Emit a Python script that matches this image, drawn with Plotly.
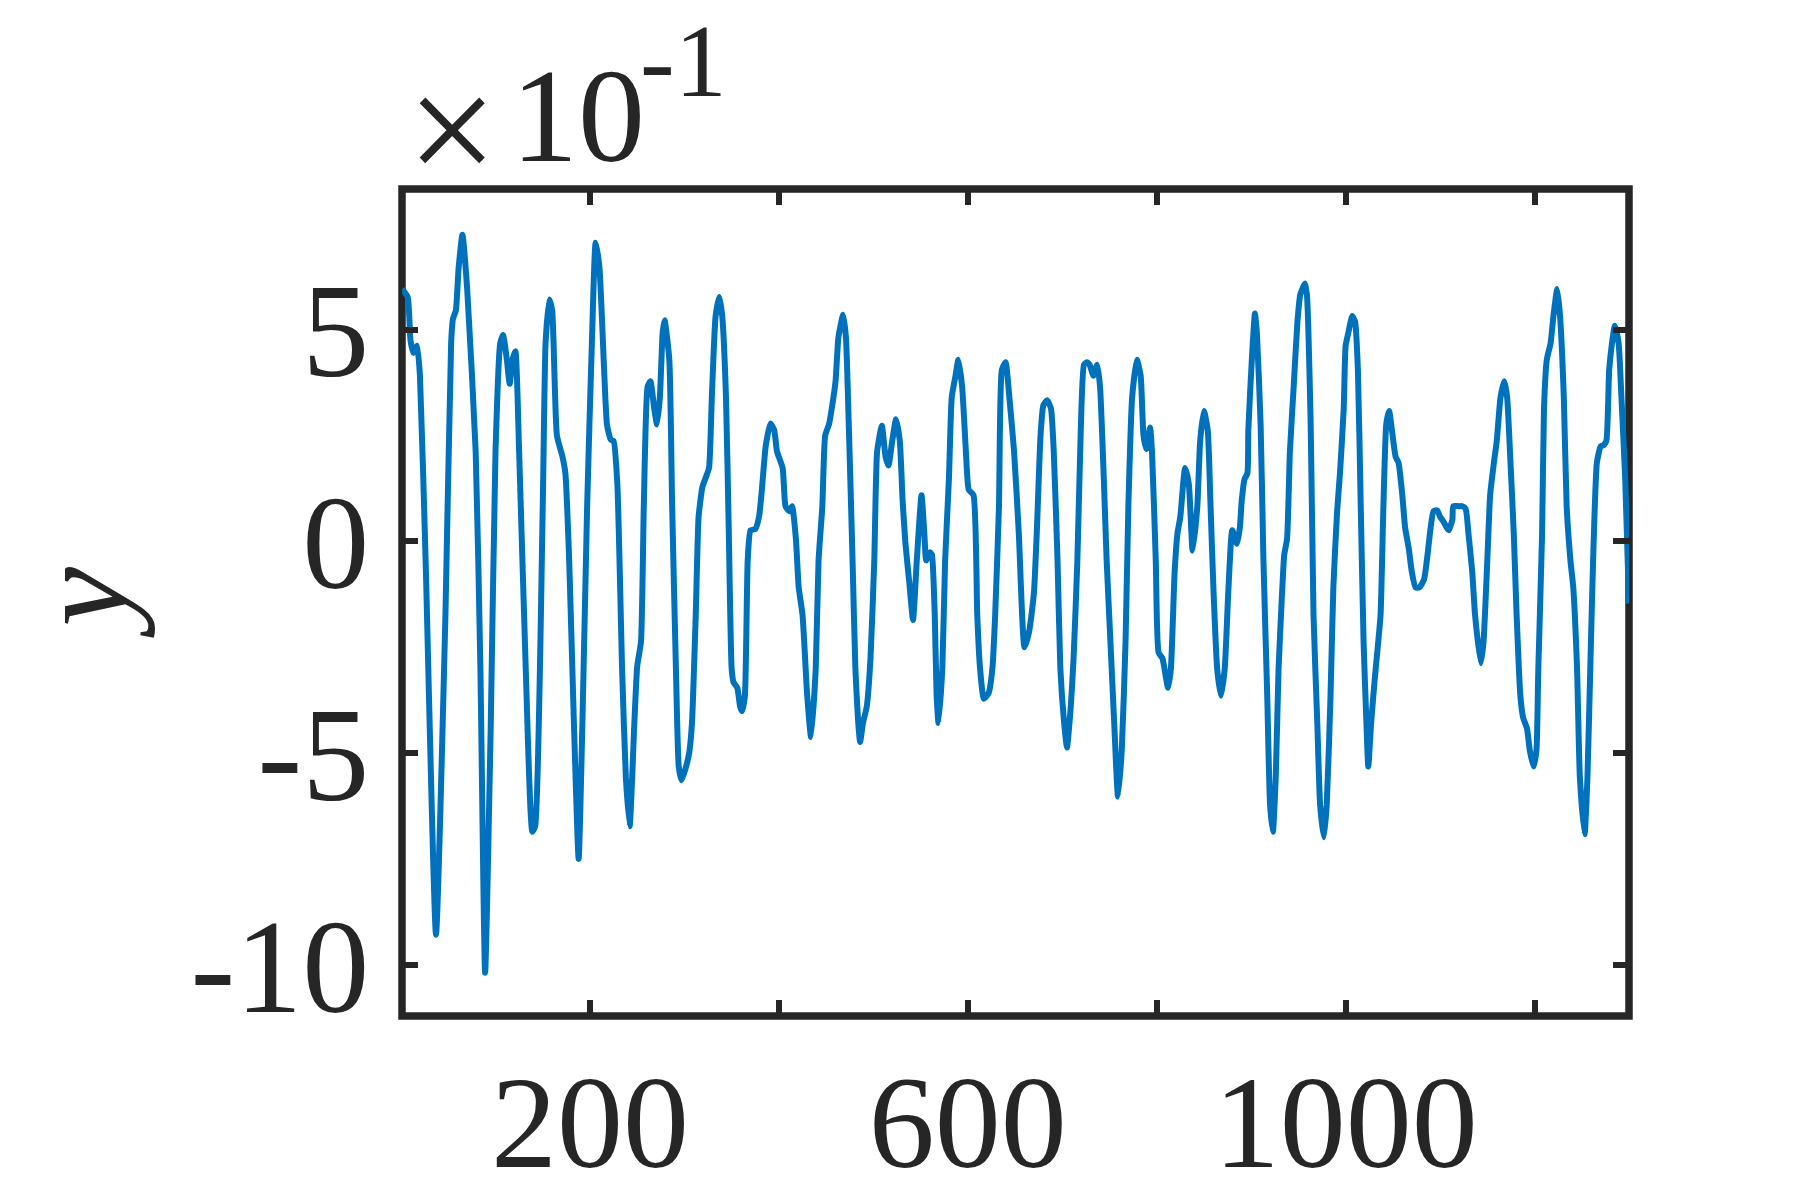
import plotly.graph_objects as go

# sample index and signal value (real units, axis shows x10^-1)
n = [1, 7, 10, 13, 15, 17, 20, 26, 37, 47, 53, 55, 58, 61, 65, 70, 79, 84, 89, 95,
     100, 105, 108, 112, 115, 118, 121, 125, 132, 139, 142, 150, 153, 157, 160, 165, 171, 174, 178, 183,
     188, 192, 197, 202, 206, 210,
     215, 218, 222, 225, 229, 234, 238, 242, 247, 250, 254, 257, 261, 264, 268, 271, 274, 277, 279, 284,
     287, 291, 294, 297, 301, 305, 308, 312, 315, 319, 322, 326, 329, 333, 337, 340, 344, 347, 350, 352,
     356, 359, 361, 364, 367, 370, 375, 379, 382, 386, 391, 395, 398, 404, 407, 411, 414, 418, 421, 425,
     430, 434,
     439, 442, 446, 449, 453, 456, 460, 463, 468, 471, 474, 478, 481, 484, 486, 489, 493, 497, 501, 504,
     509, 513, 516, 520, 524, 528, 531, 534, 538, 542, 546, 551, 554, 556, 560, 562, 565, 567, 569, 573,
     576, 580, 583, 587, 590, 594, 598, 601, 606, 610, 613, 617, 622, 626, 629, 633, 636, 640, 644, 649,
     654,
     660, 665, 670, 673, 677, 680, 684, 688, 691, 695, 698, 702, 705, 709, 712, 716, 719, 723, 726, 729,
     733, 737, 740, 744, 747, 751, 755, 759, 763, 767, 770, 774, 779, 783, 786, 789, 793, 795, 799, 802,
     806, 812, 815, 819, 822, 825, 830, 834, 838, 843, 846, 850, 854, 857, 860, 864, 868,
     872, 876, 880, 885, 888, 890, 893, 896, 897, 901, 904, 906, 910, 913, 917, 920, 923, 926, 929, 933,
     935, 938, 941, 945, 949, 952, 957, 959, 963, 966, 970, 973, 977, 980, 984, 987, 991, 994, 998, 1000,
     1003, 1007, 1010, 1013, 1016, 1019, 1022, 1024, 1027, 1031, 1034, 1037, 1040, 1043, 1046, 1049, 1053,
     1056, 1060, 1063, 1067, 1070, 1074, 1078,
     1083, 1086, 1090, 1093, 1097, 1100, 1104, 1109, 1113, 1114, 1120, 1123, 1127, 1130, 1134, 1137, 1143,
     1146, 1150, 1153, 1157, 1160, 1164, 1168, 1171, 1174, 1178, 1181, 1185, 1188, 1192, 1195, 1199, 1202,
     1204, 1208, 1210, 1213, 1217, 1220, 1224, 1227, 1231, 1234, 1238, 1241, 1245, 1248, 1253, 1256, 1259,
     1262, 1266, 1270, 1273, 1276, 1279, 1282, 1285, 1289, 1292, 1296, 1300]

y = [0.596, 0.577, 0.474, 0.445, 0.455, 0.462, 0.391, -0.045, -0.929, -0.173, 0.468, 0.526, 0.545, 0.647, 0.724, 0.596, 0.212, -0.301, -1.019, -0.429,
     0.212, 0.468, 0.487, 0.429, 0.372, 0.429, 0.449, 0.212, -0.301, -0.686, -0.673, 0.083, 0.468, 0.571, 0.545, 0.250, 0.199, 0.160, -0.045, -0.429,
     -0.750, -0.429, 0.083, 0.468, 0.705, 0.647,
     0.404, 0.276, 0.240, 0.237, 0.135, -0.301, -0.558, -0.673, -0.429, -0.295, -0.237, 0.083, 0.365, 0.378, 0.314, 0.276, 0.340, 0.494, 0.522, 0.429,
     0.083, -0.301, -0.532, -0.564, -0.538, -0.500, -0.429, -0.173, 0.058, 0.128, 0.147, 0.173, 0.340, 0.532, 0.577, 0.532, 0.340, 0.019, -0.301, -0.333,
     -0.346, -0.391, -0.401, -0.365, -0.045, 0.026, 0.029, 0.058, 0.122, 0.224, 0.278, 0.263, 0.212, 0.173, 0.083, 0.071, 0.083, 0.006, -0.109, -0.173,
     -0.365, -0.462,
     -0.301, -0.045, 0.083, 0.250, 0.276, 0.314, 0.378, 0.481, 0.535, 0.481, 0.276, -0.045, -0.301, -0.429, -0.474, -0.429, -0.391, -0.276, -0.045, 0.212,
     0.273, 0.199, 0.179, 0.237, 0.288, 0.237, 0.096, -0.006, -0.096, -0.186, -0.045, 0.109, 0.019, -0.045, -0.026, -0.032, -0.173, -0.365, -0.429, -0.301,
     -0.045, 0.147, 0.340, 0.391, 0.429, 0.365, 0.212, 0.122, 0.109, -0.173, -0.301, -0.372, -0.359, -0.301, -0.173, 0.083, 0.404, 0.423, 0.340, 0.212,
     0.019,
     -0.250, -0.212, -0.122, 0.019, 0.250, 0.321, 0.333, 0.314, 0.212, -0.045, -0.301, -0.429, -0.487, -0.391, -0.276, -0.045, 0.212, 0.417, 0.423, 0.417,
     0.391, 0.417, 0.365, 0.147, -0.045, -0.237, -0.429, -0.603, -0.494, -0.237, 0.083, 0.340, 0.429, 0.391, 0.250, 0.218, 0.269, 0.212, -0.045, -0.263,
     -0.276, -0.346, -0.301, -0.071, 0.019, 0.058, 0.173, 0.135, -0.022, 0.083, 0.237, 0.308, 0.263, 0.083, -0.109, -0.301, -0.365,
     -0.301, -0.109, 0.026, -0.006, 0.032, 0.096, 0.147, 0.160, 0.263, 0.442, 0.538, 0.494, 0.276, -0.045, -0.365, -0.622, -0.686, -0.558, -0.301, -0.109,
     -0.032, 0.006, 0.212, 0.365, 0.519, 0.583, 0.609, 0.583, 0.276, -0.173, -0.429, -0.622, -0.699, -0.622, -0.365, -0.109, 0.071, 0.160, 0.314, 0.462,
     0.494, 0.532, 0.519, 0.404, 0.083, -0.237, -0.429, -0.532, -0.429, -0.321, -0.250, -0.173, 0.083, 0.276, 0.308, 0.263, 0.199,
     0.186, 0.109, 0.032, -0.019, -0.071, -0.109, -0.109,
     -0.090, -0.045, 0.032, 0.071, 0.073, 0.058, 0.045, 0.026, 0.051, 0.083, 0.083, 0.083, 0.077, 0.019, -0.071, -0.173, -0.288,
     -0.237, -0.045, 0.109, 0.186, 0.237, 0.340, 0.378, 0.340, 0.212, 0.019, -0.173, -0.365, -0.417, -0.442, -0.494, -0.532, -0.494,
     -0.301, 0.019, 0.314, 0.429, 0.468, 0.532, 0.596, 0.532, 0.340, 0.083, -0.045, -0.109, -0.301, -0.558, -0.692, -0.558, -0.301,
     -0.045, 0.186, 0.224, 0.227, 0.237, 0.404, 0.468, 0.509, 0.468, 0.340, 0.147, -0.147]

x_ticks = [200, 400, 600, 800, 1000, 1200]
x_labels = ['200', '', '600', '', '1000', '']
y_ticks = [-1.0, -0.5, 0.0, 0.5]
y_labels = ['-10', '-5', '0', '5']

axis_col = '#262626'
serif = 'Liberation Serif'

fig = go.Figure()
fig.add_trace(go.Scatter(x=n, y=y, mode='lines',
                         line=dict(color='#0072BD', width=6, shape='spline', smoothing=0.5)))

# axis lines kept invisible (only for tick placement), the box is a shape below the curve
axis_common = dict(
    ticks='inside', tickwidth=5.5, tickcolor=axis_col, ticklen=16,
    showline=True, linewidth=1, linecolor='rgba(0,0,0,0)', mirror='ticks',
    showgrid=False, zeroline=False, automargin=False,
)

fig.update_xaxes(range=[1, 1300], tickvals=x_ticks, ticktext=x_labels,
                 ticklabelstandoff=-8,
                 tickfont=dict(family=serif, size=132, color=axis_col), **axis_common)
fig.update_yaxes(range=[-1.121, 0.832], tickvals=y_ticks, ticktext=y_labels,
                 ticklabelstandoff=5,
                 tickfont=dict(family=serif, size=134, color=axis_col), **axis_common)

fig.add_shape(type='rect', xref='paper', yref='paper', x0=0, x1=1, y0=0, y1=1,
              line=dict(color=axis_col, width=7.5), fillcolor='rgba(0,0,0,0)', layer='below')

# y label and the x10^-1 exponent
fig.add_annotation(text='<i>y</i>', textangle=-90, xref='paper', yref='paper',
                   x=-0.2608, y=0.5, xanchor='center', yanchor='middle', showarrow=False,
                   font=dict(family=serif, size=134, color=axis_col, style='italic'))
fig.add_annotation(text='×', xref='paper', yref='paper', x=0.0407, y=0.9615,
                   xanchor='center', yanchor='bottom', showarrow=False,
                   font=dict(family=serif, size=160, color=axis_col))
fig.add_annotation(text='10', xref='paper', yref='paper', x=0.1434, y=0.9964,
                   xanchor='center', yanchor='bottom', showarrow=False,
                   font=dict(family=serif, size=134, color=axis_col))
fig.add_annotation(text='-1', xref='paper', yref='paper', x=0.1923, y=1.0836,
                   xanchor='left', yanchor='bottom', showarrow=False,
                   font=dict(family=serif, size=104, color=axis_col))

fig.update_layout(
    width=1800, height=1200,
    margin=dict(l=402, r=171, t=189, b=184),
    paper_bgcolor='white', plot_bgcolor='rgba(0,0,0,0)',
    showlegend=False,
)

# drop the default 8px page margin so the figure sits at the window corner
fig.write_html("out.html", config={'displayModeBar': False},
               post_script="document.body.style.margin='0';")
